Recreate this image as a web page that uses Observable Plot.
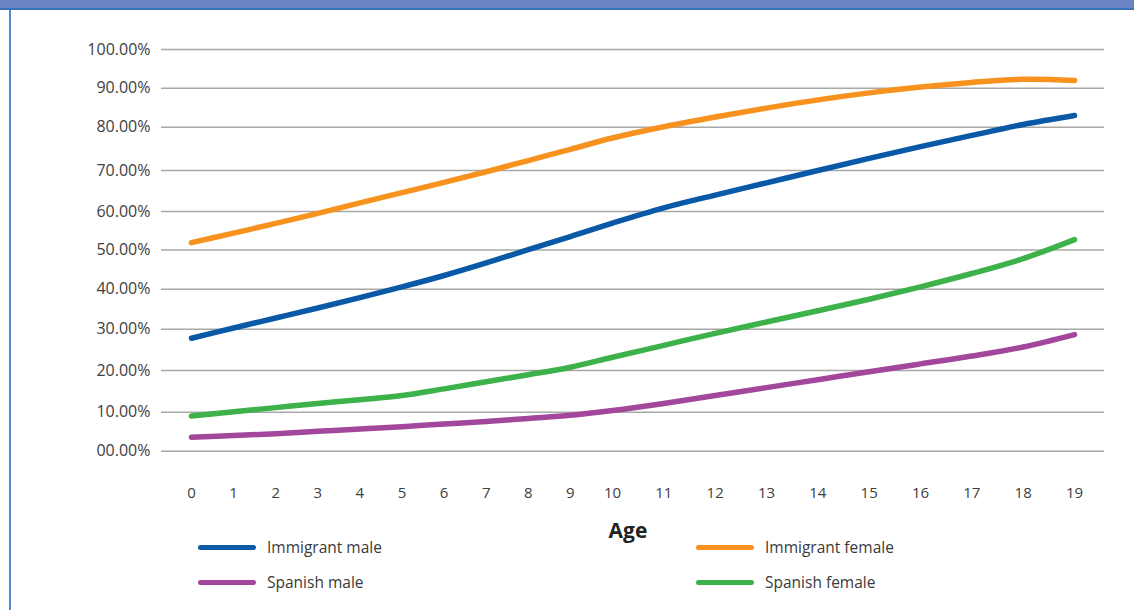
<!DOCTYPE html>
<html>
<head>
<meta charset="utf-8">
<script src="https://cdn.jsdelivr.net/npm/d3@7"></script>
<script src="https://cdn.jsdelivr.net/npm/@observablehq/plot@0.6"></script>
<style>
  html, body { margin: 0; padding: 0; background: #fff; }
  #wrap { position: relative; width: 1134px; height: 610px; overflow: hidden; font-family: "Open Sans", sans-serif; }
  #header { position: absolute; left: 0; top: 0; width: 1134px; height: 8px; background: #6d84c3; border-bottom: 2px solid #3a72b8; }
  #leftborder { position: absolute; left: 9px; top: 10px; width: 2px; height: 600px; background: #4f8bcd; }
  #chart { position: absolute; left: 0; top: 0; }
  #xlabel { position: absolute; left: 578px; width: 100px; top: 516px; text-align: center; font-weight: 700; font-size: 21px; color: #222; }
  .leg { position: absolute; display: flex; align-items: center; font-size: 15.5px; color: #3a3a3a; }
  .sw { width: 58px; height: 5px; border-radius: 3px; margin-right: 11px; }
</style>
</head>
<body>
<div id="wrap">
  <div id="chart"></div>
  <div id="header"></div>
  <div id="leftborder"></div>
  <div id="xlabel"></div>
  <div id="legend"></div>
</div>
<script>
// ---- data ----
const ages = [0,1,2,3,4,5,6,7,8,9,10,11,12,13,14,15,16,17,18,19];
const seriesNames = ["Immigrant male", "Immigrant female", "Spanish male", "Spanish female"];
const seriesColors = ["#0a59a7", "#f7921e", "#a2479b", "#3db14a"];
const immigrantMale   = [27.8,30.3,32.8,35.3,37.9,40.6,43.5,46.7,50.1,53.5,57.0,60.9,64.0,67.0,70.0,72.8,75.5,78.1,80.7,83.0];
const immigrantFemale = [51.9,54.4,56.9,59.5,62.1,64.6,67.1,69.7,72.3,74.9,77.5,80.1,82.6,84.9,87.0,88.8,90.3,91.5,92.3,92.0];
const spanishMale     = [3.6,4.0,4.5,5.1,5.7,6.3,7.0,7.6,8.4,9.2,10.4,12.1,14.0,15.9,17.8,19.7,21.6,23.5,25.7,28.7];
const spanishFemale   = [9.0,10.1,11.1,12.1,13.0,14.0,15.6,17.3,19.0,20.8,23.2,26.1,29.0,31.8,34.6,37.5,40.6,44.0,47.8,52.7];
const yTicks = [0,10,20,30,40,50,60,70,80,90,100];
const yTickLabels = ["00.00%","10.00%","20.00%","30.00%","40.00%","50.00%","60.00%","70.00%","80.00%","90.00%","100.00%"];
const xTitle = "Age";

const seriesValues = [immigrantMale, immigrantFemale, spanishMale, spanishFemale];
const rows = seriesNames.flatMap((name, i) => ages.map((a, j) => ({series: name, age: a, value: seriesValues[i][j]})));

// The reference axes are not evenly spaced: piecewise-linear transforms feed Plot's linear scales.
const xPiece = d3.scaleLinear().domain([0, 10, 19]).range([191, 612, 1074]);
const yPiece = d3.scaleLinear().domain(yTicks).range([450.7, 411.7, 370, 328.7, 288.7, 249.5, 211, 170, 126.7, 87.7, 49]);

const chart = Plot.plot({
  width: 1134,
  height: 520,
  marginLeft: 161,
  marginRight: 30,
  marginTop: 49,
  marginBottom: 69,
  style: {fontFamily: "Open Sans, sans-serif", fontSize: "15px", color: "#404040", background: "transparent"},
  x: {transform: xPiece, domain: [191, 1074], range: [191, 1074]},
  y: {transform: yPiece, domain: [450.7, 49], range: [450.7, 49]},
  color: {domain: seriesNames, range: seriesColors},
  marks: [
    Plot.gridY(yTicks, {stroke: "#a8a8a8", strokeOpacity: 1, strokeWidth: 1.5}),
    Plot.axisY(yTicks, {tickSize: 0, tickPadding: 11, label: null, fill: "#404040",
      tickFormat: d => yTickLabels[yTicks.indexOf(d)], fontSize: 16}),
    Plot.axisX(ages, {tickSize: 0, tickPadding: 36, label: null, fill: "#404040", fontSize: 15,
      tickFormat: d => String(d)}),
    Plot.line(rows, {x: "age", y: "value", z: "series", stroke: "series", strokeWidth: 5.5,
      strokeLinecap: "round", strokeLinejoin: "round", curve: "catmull-rom"})
  ]
});
document.getElementById("chart").appendChild(chart);
document.getElementById("xlabel").textContent = xTitle;

// legend
const legendPos = [[198, 536], [696, 536], [198, 571], [696, 571]];
const legend = document.getElementById("legend");
seriesNames.forEach((name, i) => {
  const d = document.createElement("div");
  d.className = "leg";
  d.style.left = legendPos[i][0] + "px";
  d.style.top = legendPos[i][1] + "px";
  const sw = document.createElement("div");
  sw.className = "sw";
  sw.style.background = seriesColors[i];
  const t = document.createElement("span");
  t.textContent = name;
  d.appendChild(sw); d.appendChild(t);
  legend.appendChild(d);
});
</script>
</body>
</html>
